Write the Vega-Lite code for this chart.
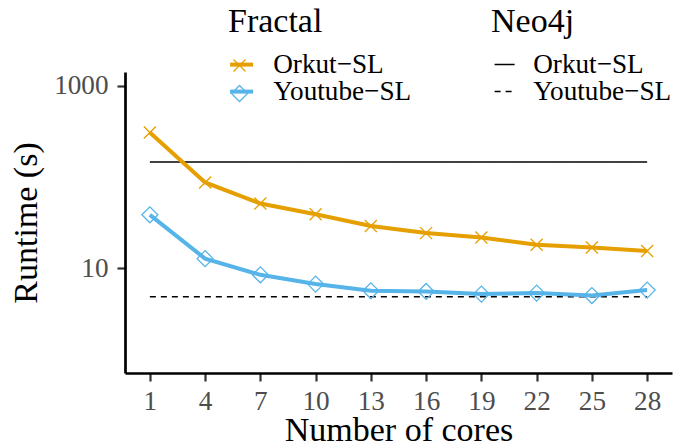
{
  "$schema": "https://vega.github.io/schema/vega-lite/v6.json",
  "autosize": {"type": "none"},
  "width": 547,
  "height": 301,
  "padding": {"left": 125, "top": 72, "right": 9, "bottom": 74},
  "background": "white",
  "datasets": {
    "fractal": [
      {"cores": 1, "fractal": "Orkut−SL", "runtime": 307},
      {"cores": 4, "fractal": "Orkut−SL", "runtime": 87},
      {"cores": 7, "fractal": "Orkut−SL", "runtime": 51},
      {"cores": 10, "fractal": "Orkut−SL", "runtime": 39},
      {"cores": 13, "fractal": "Orkut−SL", "runtime": 29},
      {"cores": 16, "fractal": "Orkut−SL", "runtime": 24.2},
      {"cores": 19, "fractal": "Orkut−SL", "runtime": 21.7},
      {"cores": 22, "fractal": "Orkut−SL", "runtime": 18},
      {"cores": 25, "fractal": "Orkut−SL", "runtime": 16.8},
      {"cores": 28, "fractal": "Orkut−SL", "runtime": 15.4},
      {"cores": 1, "fractal": "Youtube−SL", "runtime": 38.4},
      {"cores": 4, "fractal": "Youtube−SL", "runtime": 12.7},
      {"cores": 7, "fractal": "Youtube−SL", "runtime": 8.44},
      {"cores": 10, "fractal": "Youtube−SL", "runtime": 6.68},
      {"cores": 13, "fractal": "Youtube−SL", "runtime": 5.64},
      {"cores": 16, "fractal": "Youtube−SL", "runtime": 5.55},
      {"cores": 19, "fractal": "Youtube−SL", "runtime": 5.19},
      {"cores": 22, "fractal": "Youtube−SL", "runtime": 5.32},
      {"cores": 25, "fractal": "Youtube−SL", "runtime": 5.0},
      {"cores": 28, "fractal": "Youtube−SL", "runtime": 5.74}
    ],
    "neo4j": [
      {"cores": 1, "neo4j": "Orkut−SL", "runtime": 145.5},
      {"cores": 28, "neo4j": "Orkut−SL", "runtime": 145.5},
      {"cores": 1, "neo4j": "Youtube−SL", "runtime": 4.84},
      {"cores": 28, "neo4j": "Youtube−SL", "runtime": 4.84}
    ]
  },
  "encoding": {
    "x": {
      "field": "cores", "type": "quantitative",
      "scale": {"domain": [-0.35, 29.35], "nice": false, "zero": false},
      "axis": {"title": "Number of cores", "values": [1, 4, 7, 10, 13, 16, 19, 22, 25, 28], "format": "d"}
    },
    "y": {
      "field": "runtime", "type": "quantitative",
      "scale": {"type": "log", "domain": [0.708, 1413], "nice": false},
      "axis": {"title": "Runtime (s)", "values": [10, 1000], "format": "d"}
    }
  },
  "layer": [
    {
      "data": {"name": "neo4j"},
      "mark": {"type": "line", "color": "black", "strokeWidth": 1.5},
      "encoding": {
        "strokeDash": {
          "field": "neo4j", "type": "nominal",
          "scale": {"range": [[1, 0], [6, 5]]},
          "legend": {"title": "Neo4j", "orient": "none", "legendX": 366, "legendY": -67, "symbolType": "stroke", "symbolSize": 400, "symbolStrokeWidth": 1.5, "symbolStrokeColor": "black", "labelOffset": 15}
        }
      }
    },
    {
      "data": {"name": "fractal"},
      "mark": {"type": "line", "strokeWidth": 4},
      "encoding": {
        "stroke": {
          "field": "fractal", "type": "nominal",
          "scale": {"domain": ["Orkut−SL", "Youtube−SL"], "range": ["#E69F00", "#56B4E9"]},
          "legend": {"title": "Fractal", "orient": "none", "legendX": 103, "legendY": -67, "symbolType": "stroke", "symbolSize": 529, "symbolStrokeWidth": 4, "labelOffset": 18}
        }
      }
    },
    {
      "data": {"name": "fractal"},
      "mark": {"type": "point", "filled": false, "size": 256, "strokeWidth": 1.3, "opacity": 1},
      "encoding": {
        "color": {
          "field": "fractal", "type": "nominal",
          "scale": {"range": ["#E69F00", "#56B4E9"]},
          "legend": {"title": null, "orient": "none", "legendX": 105.5, "legendY": -15.5, "labelExpr": "''", "labelFontSize": 1, "symbolSize": 256, "symbolStrokeWidth": 1.3, "labelOffset": 0, "rowPadding": 8}
        },
        "shape": {
          "field": "fractal", "type": "nominal",
          "scale": {"range": ["M-0.75,-0.75L0.75,0.75M-0.75,0.75L0.75,-0.75", "diamond"]},
          "legend": {"title": null, "orient": "none", "legendX": 105.5, "legendY": -15.5, "labelExpr": "''", "labelFontSize": 1, "symbolSize": 256, "symbolStrokeWidth": 1.3, "labelOffset": 0, "rowPadding": 8}
        }
      }
    }
  ],
  "config": {
    "view": {"stroke": null},
    "font": "Liberation Serif",
    "axis": {
      "grid": false,
      "domainColor": "black",
      "domainWidth": 2.7,
      "tickColor": "#333333",
      "tickWidth": 2.2,
      "tickSize": 8,
      "labelFont": "Liberation Serif",
      "labelFontSize": 27.2,
      "labelColor": "#4D4D4D",
      "labelPadding": 9,
      "labelOverlap": false,
      "titleFont": "Liberation Serif",
      "titleFontSize": 34,
      "titleFontWeight": "normal",
      "titleColor": "black"
    },
    "axisY": {"titlePadding": 10},
    "axisX": {"titlePadding": -1, "labelPadding": 7},
    "legend": {
      "padding": 0,
      "titleFont": "Liberation Serif",
      "titleFontSize": 34,
      "titleFontWeight": "normal",
      "titleColor": "black",
      "titlePadding": 12,
      "labelFont": "Liberation Serif",
      "labelFontSize": 27.2,
      "labelColor": "black",
      "labelLimit": 300,
      "rowPadding": -1
    }
  }
}
